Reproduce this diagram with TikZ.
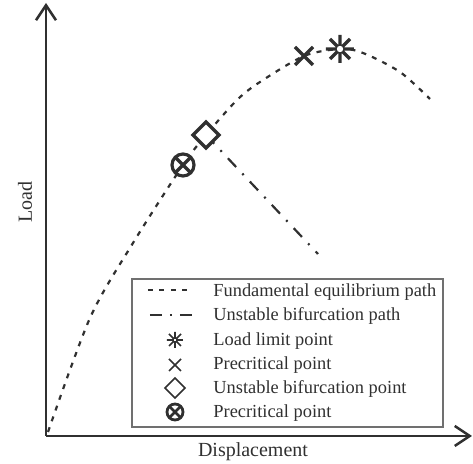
\documentclass[tikz,border=0pt]{standalone}
\usepackage{fontspec}
\setmainfont{Liberation Serif}
\usetikzlibrary{arrows.meta}
\definecolor{ink}{HTML}{303030}
\definecolor{boxgray}{HTML}{707070}
\tikzset{
  axisline/.style={draw=ink, line width=1.25pt, -{Straight Barb[length=7.5pt,width=10pt,line width=1.25pt]}},
  fundpath/.style={draw=ink, line width=1.1pt, dash pattern=on 2.5pt off 3.2pt},
  bifpath/.style={draw=ink, line width=1.1pt, dash pattern=on 6pt off 4.5pt on 1pt off 4.5pt},
  axislabel/.style={text=ink, font=\fontsize{10}{12}\selectfont, inner sep=0pt},
  legtext/.style={text=ink, font=\fontsize{9.2}{11}\selectfont, inner sep=0pt, anchor=base west},
  legbox/.style={draw=boxgray, line width=0.6pt},
  markline/.style={draw=ink, line width=1.6pt},
  legmark/.style={draw=ink, line width=0.8pt},
  legbold/.style={draw=ink, line width=1.4pt},
}
\begin{document}
\begin{tikzpicture}[x=0.5pt,y=-0.5pt]
\useasboundingbox (0,0) rectangle (473,464);
% axes
\coordinate (O) at (46,436);
\coordinate (ytip) at (46,3);
\coordinate (xtip) at (472,436);
\draw[axisline] (O) -- (ytip);
\draw[axisline] (O) -- (xtip);
\node[axislabel, anchor=base] (xlab) at (253,457) {Displacement};
\node[axislabel, rotate=90, anchor=base] (ylab) at (32,202) {Load};
% key points
\coordinate (start) at (48,432);
\coordinate (pc) at (183,165);
\coordinate (ub) at (206,135);
\coordinate (px) at (304,56);
\coordinate (ll) at (340,49);
\coordinate (cend) at (430,99);
\coordinate (bend) at (318,254);
% fundamental path
\draw[fundpath] plot[smooth, tension=0.5] coordinates {(start) (90,318) (133,243) (pc) (ub) (237,100) (260,82) (px) (ll) (363,53) (400,72) (cend)};
% bifurcation path
\draw[bifpath] (ub) -- (bend);
% markers on curve
\draw[markline, fill=white] (pc) circle (11);
\draw[markline] (pc) ++(-7.8,-7.8) -- ++(15.6,15.6) (pc) ++(-7.8,7.8) -- ++(15.6,-15.6);
\draw[markline, fill=white] (ub) ++(-13,0) -- ++(13,-13) -- ++(13,13) -- ++(-13,13) -- cycle;
\draw[markline] (px) ++(-9,-9) -- ++(18,18) (px) ++(-9,9) -- ++(18,-18);
\draw[markline] (ll) ++(-14,0) -- ++(28,0) (ll) ++(0,-14) -- ++(0,28)
  (ll) ++(-10,-10) -- ++(20,20) (ll) ++(-10,10) -- ++(20,-20);
\fill[white] (ll) circle (3.2);
% legend
\draw[legbox] (132,279) rectangle (443,427);
\coordinate (l1a) at (148,290); \coordinate (l1b) at (193,290);
\coordinate (l2a) at (150,315); \coordinate (l2b) at (193,315);
\draw[fundpath] (l1a) -- (l1b);
\draw[bifpath, dash pattern=on 6pt off 4pt on 1pt off 4pt] (l2a) -- (l2b);
\coordinate (m3) at (175,340);
\coordinate (m4) at (175,365);
\coordinate (m5) at (175,388);
\coordinate (m6) at (175,412);
\draw[legmark] (m3) ++(-8,0) -- ++(16,0) (m3) ++(0,-8) -- ++(0,16)
  (m3) ++(-6,-6) -- ++(12,12) (m3) ++(-6,6) -- ++(12,-12);
\fill[white] (m3) circle (2.2);
\draw[legmark] (m3) circle (2.2);
\draw[legmark] (m4) ++(-6,-6) -- ++(12,12) (m4) ++(-6,6) -- ++(12,-12);
\draw[legmark] (m5) ++(-10,0) -- ++(10,-10) -- ++(10,10) -- ++(-10,10) -- cycle;
\draw[legbold] (m6) circle (8);
\draw[legbold] (m6) ++(-5.6,-5.6) -- ++(11.2,11.2) (m6) ++(-5.6,5.6) -- ++(11.2,-11.2);
\node[legtext] (t1) at (213,297) {Fundamental equilibrium path};
\node[legtext] (t2) at (213,321) {Unstable bifurcation path};
\node[legtext] (t3) at (213,346) {Load limit point};
\node[legtext] (t4) at (213,370) {Precritical point};
\node[legtext] (t5) at (213,394) {Unstable bifurcation point};
\node[legtext] (t6) at (213,418) {Precritical point};
\end{tikzpicture}
\end{document}
